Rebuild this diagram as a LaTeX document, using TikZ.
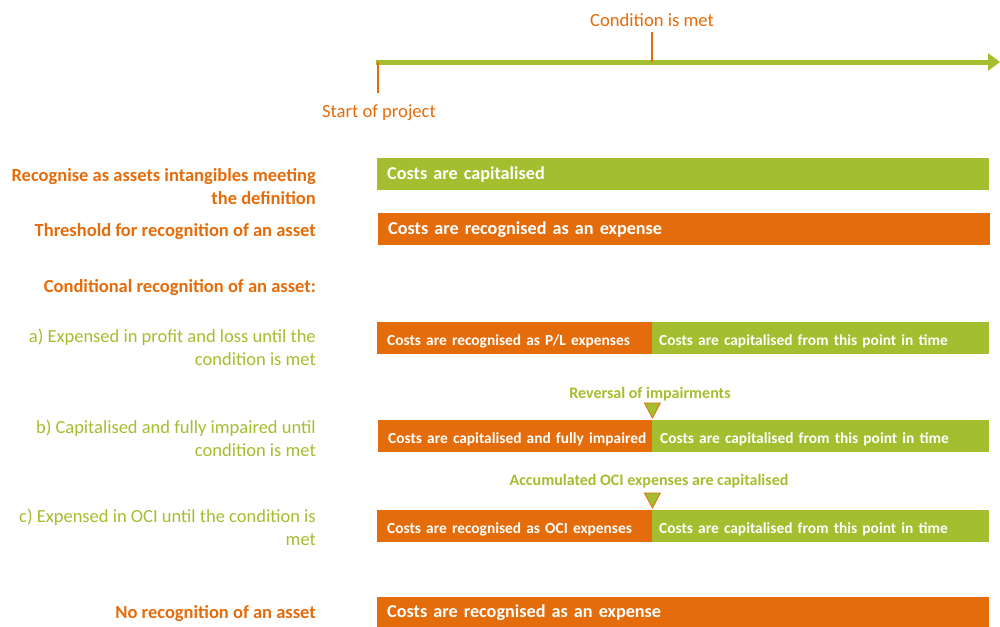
\documentclass[tikz,border=0pt]{standalone}
\usepackage{fontspec}
\setmainfont{Carlito}
\usetikzlibrary{arrows.meta}
\definecolor{org}{HTML}{E46C0A}
\definecolor{grn}{HTML}{A3BE2E}
\begin{document}
\begin{tikzpicture}[x=1pt,y=-1pt,
  lblO/.style={anchor=east, align=right, text=org, font=\fontsize{18.5}{22.6}\selectfont\bfseries, inner sep=0},
  lblG/.style={anchor=east, align=right, text=grn, font=\fontsize{18.5}{22.6}\selectfont, inner sep=0},
  bigbar/.style={anchor=north west, inner xsep=10pt, inner ysep=0, text width=592pt, minimum height=32pt, align=left, text=white, font=\fontsize{18.2}{20}\selectfont\bfseries},
  halfbar/.style={anchor=north west, inner xsep=10pt, inner ysep=0, minimum height=32pt, text height=16pt, text depth=2pt, align=left, text=white, font=\fontsize{15.4}{17}\selectfont\bfseries},
  tick/.style={draw=org, line width=2.5pt},
  marker/.style={draw=org, fill=grn, line width=0.8pt},
  toplbl/.style={text=org, font=\fontsize{18.6}{20}\selectfont, inner sep=0},
  evlbl/.style={text=grn, font=\fontsize{16}{18}\selectfont\bfseries, inner sep=0}
]
\useasboundingbox (0,0) rectangle (1000,626);
% timeline
\coordinate (t0) at (376,62);
\coordinate (t1) at (1000,62);
\coordinate (tc) at (652,62);
\coordinate (ts) at (378,62);
\coordinate (tcTop) at (652,32);
\coordinate (tsBot) at (378,93);
\draw[grn, line width=5pt, -{Triangle[length=12pt,width=17pt]}] (t0) -- (t1);
\draw[tick] (tc) -- (tcTop);
\draw[tick] (ts) -- (tsBot);
\node[toplbl] (cond) at (652,20) {Condition is met};
\node[toplbl] (start) at (379,113) {Start of project};
% left labels
\node[lblO] (l1) at (316,186.5) {Recognise as assets intangibles meeting\\the definition};
\node[lblO] (l2) at (316,232) {Threshold for recognition of an asset};
\node[lblO] (l3) at (316,288) {Conditional recognition of an asset:};
\node[lblG] (la) at (316,347.5) {a) Expensed in profit and loss until the\\condition is met};
\node[lblG] (lb) at (316,438.5) {b) Capitalised and fully impaired until\\condition is met};
\node[lblG] (lc) at (316,527.5) {c) Expensed in OCI until the condition is\\met};
\node[lblO] (l4) at (316,614) {No recognition of an asset};
% bars
\node[bigbar, fill=grn] (b1) at (377,158) {Costs are capitalised};
\node[bigbar, fill=org] (b2) at (378,213) {Costs are recognised as an expense};
\node[halfbar, fill=org, text width=255pt] (ba1) at (377,322) {Costs are recognised as P/L expenses};
\node[halfbar, fill=grn, inner xsep=7pt, text width=323pt] (ba2) at (652,322) {Costs are capitalised from this point in time};
\node[halfbar, fill=org, text width=254pt] (bb1) at (378,420) {\mbox{Costs are capitalised and fully impaired}};
\node[halfbar, fill=grn, inner xsep=8pt, text width=321pt] (bb2) at (652,420) {Costs are capitalised from this point in time};
\node[halfbar, fill=org, text width=255pt] (bc1) at (377,510) {Costs are recognised as OCI expenses};
\node[halfbar, fill=grn, inner xsep=7pt, text width=323pt] (bc2) at (652,510) {Costs are capitalised from this point in time};
\node[bigbar, fill=org, minimum height=30pt] (b4) at (377,597) {Costs are recognised as an expense};
% events
\node[evlbl] (ev1) at (650,394) {Reversal of impairments};
\node[evlbl] (ev2) at (649,481) {Accumulated OCI expenses are capitalised};
\draw[marker] (bb1.north east) ++(-8,-17) -- ++(16,0) -- ++(-8,15) -- cycle;
\draw[marker] (bc1.north east) ++(-8,-17) -- ++(16,0) -- ++(-8,15) -- cycle;
\end{tikzpicture}
\end{document}
